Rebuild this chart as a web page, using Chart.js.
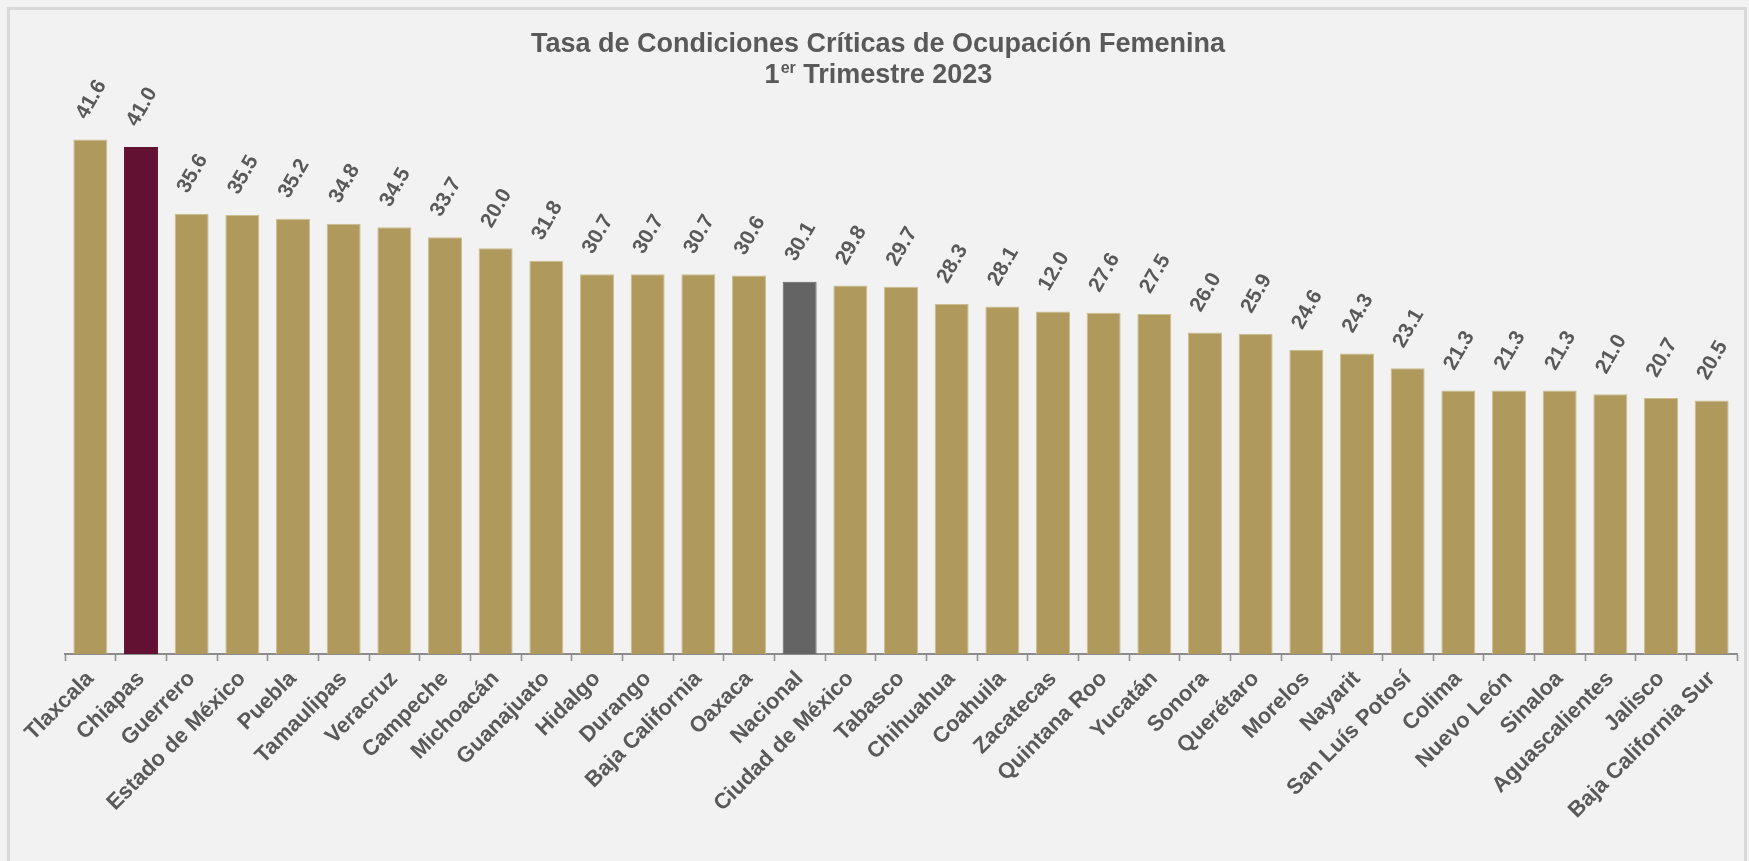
<!DOCTYPE html>
<html>
<head>
<meta charset="utf-8">
<script src="https://cdn.jsdelivr.net/npm/chart.js@4.4.0/dist/chart.umd.min.js"></script>
<style>
  html, body { margin: 0; padding: 0; background: #f2f2f2; }
  #wrap { width: 1749px; height: 861px; position: relative; }
</style>
</head>
<body>
<div id="wrap"><canvas id="chartContainer"></canvas></div>
<script>
const estados = [
  "Tlaxcala", "Chiapas", "Guerrero", "Estado de México", "Puebla", "Tamaulipas",
  "Veracruz", "Campeche", "Michoacán", "Guanajuato", "Hidalgo", "Durango",
  "Baja California", "Oaxaca", "Nacional", "Ciudad de México", "Tabasco",
  "Chihuahua", "Coahuila", "Zacatecas", "Quintana Roo", "Yucatán", "Sonora",
  "Querétaro", "Morelos", "Nayarit", "San Luís Potosí", "Colima", "Nuevo León",
  "Sinaloa", "Aguascalientes", "Jalisco", "Baja California Sur"
];
// alturas de las barras
const tasa = [
  41.6, 41.0, 35.6, 35.5, 35.2, 34.8, 34.5, 33.7, 32.8, 31.8, 30.7, 30.7,
  30.7, 30.6, 30.1, 29.8, 29.7, 28.3, 28.1, 27.7, 27.6, 27.5, 26.0, 25.9,
  24.6, 24.3, 23.1, 21.3, 21.3, 21.3, 21.0, 20.7, 20.5
];
// etiquetas tal como aparecen en el original
const etiquetas = [
  "41.6", "41.0", "35.6", "35.5", "35.2", "34.8", "34.5", "33.7", "20.0", "31.8",
  "30.7", "30.7", "30.7", "30.6", "30.1", "29.8", "29.7", "28.3", "28.1", "12.0",
  "27.6", "27.5", "26.0", "25.9", "24.6", "24.3", "23.1", "21.3", "21.3", "21.3",
  "21.0", "20.7", "20.5"
];
const titulo = "Tasa de Condiciones Críticas de Ocupación Femenina";
const subtitulo = ["1", "er", " Trimestre 2023"];

const colorBarra = estados.map((e) => {
  if (e === "Chiapas") return "#621132";
  if (e === "Nacional") return "#646464";
  return "#b0995c";
});
const colorBorde = estados.map((e) => {
  if (e === "Chiapas") return "#621132";
  if (e === "Nacional") return "#646464";
  return "#cbbd8f";
});

const fuente = "'Liberation Sans', Arial, sans-serif";
const gris = "#595959";

const fondoPlugin = {
  id: "fondo",
  beforeDraw(chart) {
    const c = chart.ctx;
    c.save();
    c.fillStyle = "#f2f2f2";
    c.fillRect(0, 0, chart.width, chart.height);
    c.strokeStyle = "#d9d9d9";
    c.lineWidth = 3;
    c.strokeRect(8.5, 8.5, chart.width - 12, chart.height + 20);
    c.restore();
  },
};

const tituloPlugin = {
  id: "tituloDibujado",
  afterDraw(chart) {
    const c = chart.ctx;
    const cx = 878;
    c.save();
    c.fillStyle = gris;
    c.textBaseline = "alphabetic";
    c.textAlign = "center";
    c.font = "bold 27px " + fuente;
    c.fillText(titulo, cx, 52);
    // segunda linea con superindice
    c.textAlign = "left";
    const w1 = c.measureText(subtitulo[0]).width;
    const w3 = c.measureText(subtitulo[2]).width;
    c.font = "bold 16px " + fuente;
    const w2 = c.measureText(subtitulo[1]).width;
    let x = cx - (w1 + w2 + w3) / 2;
    c.font = "bold 27px " + fuente;
    c.fillText(subtitulo[0], x, 83);
    x += w1;
    c.font = "bold 16px " + fuente;
    c.fillText(subtitulo[1], x + 1, 73);
    x += w2 + 1;
    c.font = "bold 27px " + fuente;
    c.fillText(subtitulo[2], x, 83);
    c.restore();
  },
};

const etiquetasPlugin = {
  id: "etiquetasDatos",
  afterDatasetsDraw(chart) {
    const c = chart.ctx;
    const meta = chart.getDatasetMeta(0);
    c.save();
    c.fillStyle = gris;
    c.font = "bold 21px " + fuente;
    c.textAlign = "center";
    c.textBaseline = "middle";
    meta.data.forEach((bar, i) => {
      c.save();
      c.translate(bar.x + 1, bar.y - 40);
      c.rotate(-Math.PI / 3);
      c.fillText(etiquetas[i], 0, 0);
      c.restore();
    });
    c.restore();
  },
};

const ctx = document.getElementById("chartContainer").getContext("2d");
new Chart(ctx, {
  type: "bar",
  data: {
    labels: estados,
    datasets: [
      {
        label: "Tasa",
        data: tasa,
        backgroundColor: colorBarra,
        borderColor: colorBorde,
        borderWidth: 1,
        categoryPercentage: 1,
        barPercentage: 0.67,
      },
    ],
  },
  options: {
    responsive: true,
    maintainAspectRatio: false,
    animation: false,
    layout: {
      padding: { left: 65, right: 12, top: 97.5, bottom: 0 },
    },
    scales: {
      y: {
        display: false,
        min: 0,
        max: 45,
      },
      x: {
        afterFit(scale) {
          scale.height = 207;
        },
        grid: {
          offset: true,
          drawOnChartArea: false,
          tickLength: 7,
          tickColor: "#8c8c8c",
          tickWidth: 1.5,
        },
        border: {
          color: "#8c8c8c",
          width: 2,
        },
        ticks: {
          autoSkip: false,
          maxRotation: 45,
          minRotation: 45,
          padding: 5,
          color: gris,
          font: {
            family: fuente,
            size: 22,
            weight: "bold",
          },
        },
      },
    },
    plugins: {
      legend: { display: false },
      title: { display: false },
      tooltip: { enabled: false },
    },
  },
  plugins: [fondoPlugin, tituloPlugin, etiquetasPlugin],
});
</script>
</body>
</html>
